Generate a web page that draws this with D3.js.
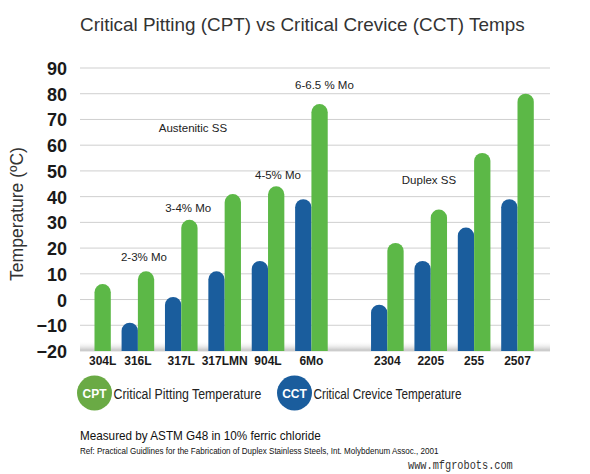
<!DOCTYPE html>
<html><head><meta charset="utf-8">
<script src="https://cdn.jsdelivr.net/npm/d3@7/dist/d3.min.js"></script>
<style>body{margin:0;background:#fff}svg{display:block}</style>
</head><body><svg id="c" width="590" height="474"></svg>
<script>
const categories = ["304L","316L","317L","317LMN","904L","6Mo","2304","2205","255","2507"];
const groups = ["Austenitic","Austenitic","Austenitic","Austenitic","Austenitic","Austenitic","Duplex","Duplex","Duplex","Duplex"];
const cct = [null, -9, 1, 11, 15, 39, -2, 15, 28, 39];
const cpt = [6, 11, 31, 41, 44, 76, 22, 35, 57, 80];
const yTicks = [-20,-10,0,10,20,30,40,50,60,70,80,90];
// annotation anchors in category-index units (x) and temperature units (y)
const annotations = [
  {text:"2-3% Mo", pos:1.14, v:15},
  {text:"3-4% Mo", pos:2.16, v:34},
  {text:"4-5% Mo", pos:4.23, v:47},
  {text:"6-6.5 % Mo", pos:5.3, v:82},
  {text:"Austenitic SS", pos:2.27, v:65},
  {text:"Duplex SS", pos:7.71, v:45}
];

const GREEN = "#5cb847", BLUE = "#1a5d9d";
const FONT = "Liberation Sans, Arial, sans-serif";
const svg = d3.select("#c");
const groupGap = 0.75;
const idx = categories.map((c,i)=> i + (groups[i]==="Duplex" ? groupGap : 0));
const x = d3.scaleLinear().domain([0, d3.max(idx)]).range([94.5, 517.5]);
const y = d3.scaleLinear().domain([-20, 90]).range([351, 68]);
const bw = 16.3;

// horizontally scale a text to a target width
function fitText(sel, px, py, w){
  const len = sel.node().getComputedTextLength();
  sel.attr("x",0).attr("y",0).attr("transform",`translate(${px},${py}) scale(${w/len},1)`);
  return sel;
}

// gridlines
svg.append("g").selectAll("line").data(yTicks.filter(t=>t>-20)).join("line")
  .attr("x1",80).attr("x2",550).attr("y1",d=>y(d)).attr("y2",d=>y(d))
  .attr("stroke","#cfcfcf").attr("stroke-width",1);
// baseline shadow
const defs = svg.append("defs");
const lg = defs.append("linearGradient").attr("id","sh").attr("x1",0).attr("x2",0).attr("y1",0).attr("y2",1);
lg.append("stop").attr("offset","0%").attr("stop-color","#fff").attr("stop-opacity",0);
lg.append("stop").attr("offset","100%").attr("stop-color","#bdbdbd").attr("stop-opacity",1);
svg.append("rect").attr("x",80).attr("y",y(-20)-10).attr("width",470).attr("height",10).attr("fill","url(#sh)");
svg.append("line").attr("x1",80).attr("x2",550).attr("y1",y(-20)).attr("y2",y(-20)).attr("stroke","#d5d5d5");

// y axis labels
const yAxis = d3.axisLeft(y).tickValues(yTicks).tickSize(0).tickPadding(0);
const ga = svg.append("g").attr("transform","translate(67,0)").call(yAxis);
ga.select(".domain").remove();
ga.selectAll("text").attr("font-family",FONT).attr("font-weight","bold")
  .attr("font-size",18).attr("fill","#1a1a1a").attr("dy","0.36em");

function barPath(x0, v){
  const r = bw/2, top = y(v), b = y(-20);
  return `M${x0},${b}L${x0},${top+r}A${r},${r} 0 0 1 ${x0+bw},${top+r}L${x0+bw},${b}Z`;
}
// bars
const bars = svg.append("g");
categories.forEach((c,i)=>{
  const cx = x(idx[i]);
  if (cct[i] !== null) bars.append("path").attr("d", barPath(cx-bw, cct[i])).attr("fill", BLUE);
  bars.append("path").attr("d", barPath(cx, cpt[i])).attr("fill", GREEN);
});

// x labels
svg.append("g").selectAll("text").data(categories).join("text")
  .attr("x",(c,i)=> cct[i]===null ? x(idx[i])+bw/2 : x(idx[i]))
  .attr("y",365).attr("text-anchor","middle")
  .attr("font-family",FONT).attr("font-weight","bold")
  .attr("font-size",12).attr("fill","#1a1a1a").text(d=>d);

// annotations
svg.append("g").selectAll("text").data(annotations).join("text")
  .attr("x",d=>x(d.pos)).attr("y",d=>y(d.v)).attr("text-anchor","middle")
  .attr("font-family",FONT).attr("font-size",11.5).attr("fill","#222")
  .text(d=>d.text);

// y title
svg.append("text").attr("transform","translate(23,214) rotate(-90)").attr("text-anchor","middle")
  .attr("font-family",FONT).attr("font-size",17.5).attr("fill","#333")
  .text("Temperature (ºC)");

// title
fitText(svg.append("text").attr("font-family",FONT).attr("font-size",19).attr("fill","#333")
  .text("Critical Pitting (CPT) vs Critical Crevice (CCT) Temps"), 80, 31, 445);

// legend
const legend = [
  {key:"CPT", label:"Critical Pitting Temperature", color:"#6aaa45", cx:94.5},
  {key:"CCT", label:"Critical Crevice Temperature", color:"#1a5d9d", cx:294.5}
];
legend.forEach(d=>{
  const g = svg.append("g");
  g.append("circle").attr("cx",d.cx).attr("cy",393).attr("r",17.5).attr("fill",d.color);
  g.append("text").attr("x",d.cx).attr("y",397.5).attr("text-anchor","middle")
    .attr("font-family",FONT).attr("font-weight","bold").attr("font-size",12)
    .attr("fill","#fff").text(d.key);
  fitText(g.append("text").attr("font-family",FONT).attr("font-size",15).attr("fill","#222").text(d.label),
    d.cx+19, 398.5, 148);
});

// footnotes
fitText(svg.append("text").attr("font-family",FONT).attr("font-size",13.5).attr("fill","#111")
  .text("Measured by ASTM G48 in 10% ferric chloride"), 80, 440, 241);
fitText(svg.append("text").attr("font-family",FONT).attr("font-size",8.5).attr("fill","#111")
  .text("Ref: Practical Guidlines for the Fabrication of Duplex Stainless Steels, Int. Molybdenum Assoc., 2001"), 80, 454, 359);
fitText(svg.append("text").attr("font-family","Liberation Mono, DejaVu Sans Mono, monospace")
  .attr("font-size",12).attr("fill","#333").text("www.mfgrobots.com"), 408, 469, 105);
</script></body></html>
